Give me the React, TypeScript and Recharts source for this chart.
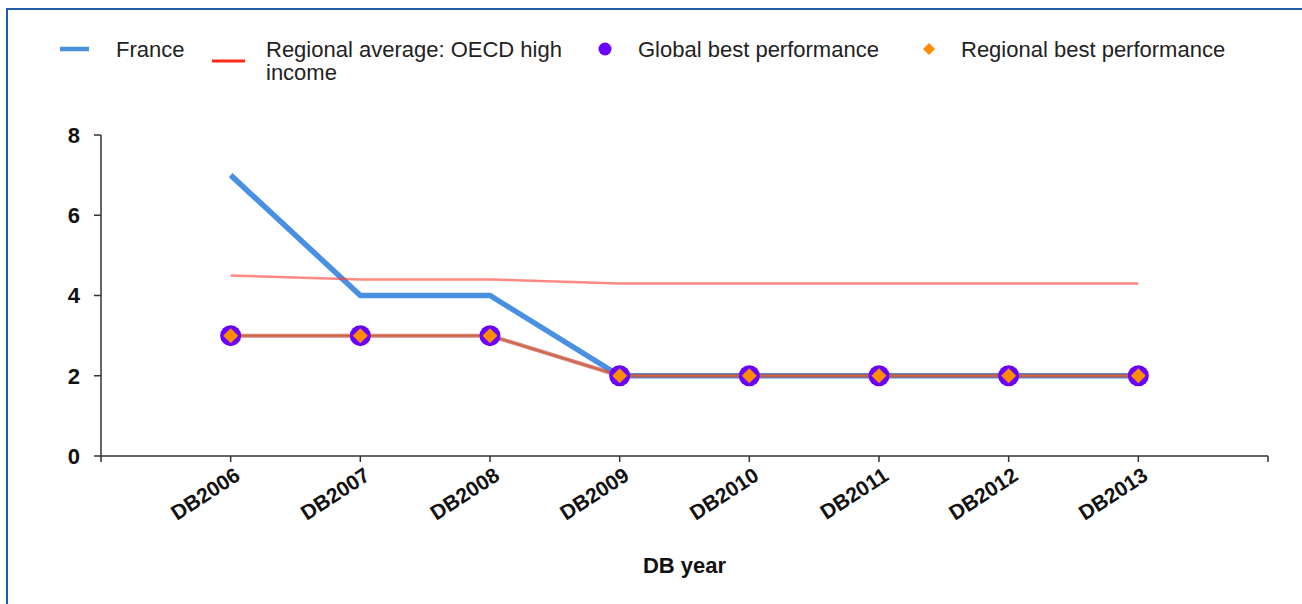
import React from 'react';
import { LineChart, Line, XAxis, YAxis, Label } from 'recharts';

const YEARS = ['DB2006', 'DB2007', 'DB2008', 'DB2009', 'DB2010', 'DB2011', 'DB2012', 'DB2013'];
const FRANCE = [7, 4, 4, 2, 2, 2, 2, 2];
const REGIONAL_AVG = [4.5, 4.4, 4.4, 4.3, 4.3, 4.3, 4.3, 4.3];
const GLOBAL_BEST = [3, 3, 3, 2, 2, 2, 2, 2];
const REGIONAL_BEST = [3, 3, 3, 2, 2, 2, 2, 2];
const Y_TICKS = [0, 2, 4, 6, 8];
const X_TICKS = [0, 1, 2, 3, 4, 5, 6, 7, 8, 9];

const data = YEARS.map((year, i) => ({
  idx: i + 1,
  year,
  france: FRANCE[i],
  regionalAvg: REGIONAL_AVG[i],
  globalBest: GLOBAL_BEST[i],
  regionalBest: REGIONAL_BEST[i],
}));

const TICK_FONT = '"Liberation Sans", Arial, sans-serif';

const XTick = (props: any) => {
  const { x, y, payload } = props;
  const label = YEARS[payload.value - 1];
  if (!label) return null;
  const tx = x + 11;
  const ty = y + 15;
  return (
    <text
      x={tx}
      y={ty}
      textAnchor="end"
      transform={`rotate(-33, ${tx}, ${ty})`}
      fontFamily={TICK_FONT}
      fontWeight="bold"
      fontSize={21}
      fill="#111"
    >
      {label}
    </text>
  );
};

const GlobalDot = (props: any) => {
  const { cx, cy } = props;
  if (cx == null || cy == null) return null;
  return <circle cx={cx} cy={cy} r={10.5} fill="#6a00ff" />;
};

const DiamondDot = (props: any) => {
  const { cx, cy } = props;
  if (cx == null || cy == null) return null;
  const h = 7.5;
  return (
    <polygon
      points={`${cx},${cy - h} ${cx + h},${cy} ${cx},${cy + h} ${cx - h},${cy}`}
      fill="#ff8c00"
    />
  );
};

const legendText: React.CSSProperties = {
  position: 'absolute',
  fontFamily: TICK_FONT,
  fontSize: 22,
  lineHeight: '23px',
  color: '#222',
  whiteSpace: 'nowrap',
};

const Legend = () => (
  <div style={{ position: 'absolute', left: 0, top: 0, width: 1302, height: 100 }}>
    <svg width={1302} height={100} style={{ position: 'absolute', left: 0, top: 0 }}>
      <line x1={60} y1={49} x2={89} y2={49} stroke="#4a90e2" strokeWidth={4.5} />
      <line x1={212} y1={61} x2={245} y2={61} stroke="#ff2a1a" strokeWidth={3} />
      <circle cx={605} cy={49} r={6.5} fill="#6a00ff" />
      <polygon points="929,43 935,49 929,55 923,49" fill="#ff8c00" />
    </svg>
    <div style={{ ...legendText, left: 116, top: 38 }}>France</div>
    <div style={{ ...legendText, left: 266, top: 38 }}>
      Regional average: OECD high
      <br />
      income
    </div>
    <div style={{ ...legendText, left: 638, top: 38 }}>Global best performance</div>
    <div style={{ ...legendText, left: 961, top: 38 }}>Regional best performance</div>
  </div>
);

export default function App() {
  return (
    <div>
      <style>{'body{margin:0;overflow:hidden;}'}</style>
      <div
        style={{
          position: 'absolute',
          left: 6,
          top: 8,
          width: 1294,
          height: 594,
          borderTop: '2px solid #1f5fa8',
          borderLeft: '2px solid #1f5fa8',
          background: '#fff',
        }}
      >
        <LineChart
          width={1294}
          height={594}
          data={data}
          margin={{ top: 125, right: 34, bottom: 28, left: 33 }}
        >
          <XAxis
            dataKey="idx"
            type="number"
            domain={[0, 9]}
            ticks={X_TICKS}
            interval={0}
            tick={<XTick />}
            tickSize={6}
            tickMargin={2}
            height={120}
            stroke="#333"
            strokeWidth={1.5}
          >
            <Label
              value="DB year"
              position="insideBottom"
              offset={3}
              fontFamily={TICK_FONT}
              fontWeight="bold"
              fontSize={22}
              fill="#111"
            />
          </XAxis>
          <YAxis
            type="number"
            domain={[0, 8]}
            ticks={Y_TICKS}
            width={60}
            tickSize={7}
            tickMargin={14}
            stroke="#333"
            strokeWidth={1.5}
            tick={{ fontFamily: TICK_FONT, fontWeight: 'bold', fontSize: 22, fill: '#111' }}
          />
          <Line
            dataKey="france"
            stroke="#4a90e2"
            strokeWidth={5.5}
            dot={false}
            isAnimationActive={false}
          />
          <Line
            dataKey="regionalAvg"
            stroke="#ff3b2f"
            strokeOpacity={0.6}
            strokeWidth={2.5}
            dot={false}
            isAnimationActive={false}
          />
          <Line
            dataKey="regionalBest"
            stroke="#ff8c00"
            strokeWidth={1.5}
            dot={false}
            isAnimationActive={false}
          />
          <Line
            dataKey="globalBest"
            stroke="#c0504d"
            strokeOpacity={0.7}
            strokeWidth={4}
            dot={<GlobalDot />}
            isAnimationActive={false}
          />
          <Line
            dataKey="regionalBest"
            stroke="none"
            dot={<DiamondDot />}
            isAnimationActive={false}
          />
        </LineChart>
      </div>
      <Legend />
    </div>
  );
}
